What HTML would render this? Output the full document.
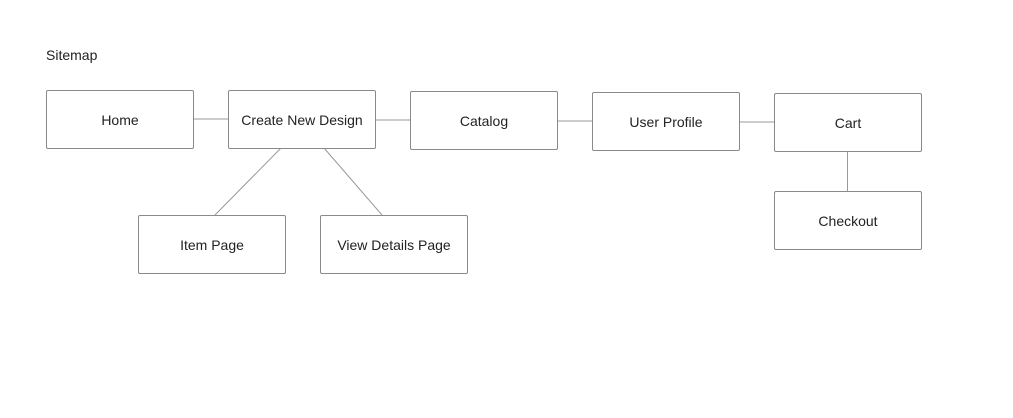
<!DOCTYPE html>
<html><head><style>
body{margin:0;width:1013px;height:418px;background:#fff;overflow:hidden;position:relative;font-family:"Liberation Sans",sans-serif;color:#222}
.b{position:absolute;width:146px;height:57px;border:1px solid #8a8a8a;border-radius:2px;box-sizing:border-box;display:flex;align-items:center;justify-content:center;font-size:14px;background:#fff}
.t{position:absolute;left:46px;top:47px;font-size:14px}
svg{position:absolute;left:0;top:0}
</style></head><body>
<svg width="1013" height="418"><g stroke="#999" stroke-width="1" fill="none">
<line x1="193" y1="119" x2="229" y2="119"/>
<line x1="375" y1="120" x2="411" y2="120"/>
<line x1="557" y1="121" x2="593" y2="121"/>
<line x1="739" y1="122" x2="775" y2="122"/>
<line x1="847.5" y1="151" x2="847.5" y2="191"/>
<line x1="281" y1="148" x2="215" y2="215"/>
<line x1="324" y1="148" x2="382" y2="215"/>
</g></svg>
<div class="t">Sitemap</div>
<div class="b" style="left:46px;top:90px;width:148px;height:59px">Home</div>
<div class="b" style="left:228px;top:90px;width:148px;height:59px">Create New Design</div>
<div class="b" style="left:410px;top:91px;width:148px;height:59px">Catalog</div>
<div class="b" style="left:592px;top:92px;width:148px;height:59px">User Profile</div>
<div class="b" style="left:774px;top:93px;width:148px;height:59px">Cart</div>
<div class="b" style="left:774px;top:191px;width:148px;height:59px">Checkout</div>
<div class="b" style="left:138px;top:215px;width:148px;height:59px">Item Page</div>
<div class="b" style="left:320px;top:215px;width:148px;height:59px">View Details Page</div>
</body></html>
